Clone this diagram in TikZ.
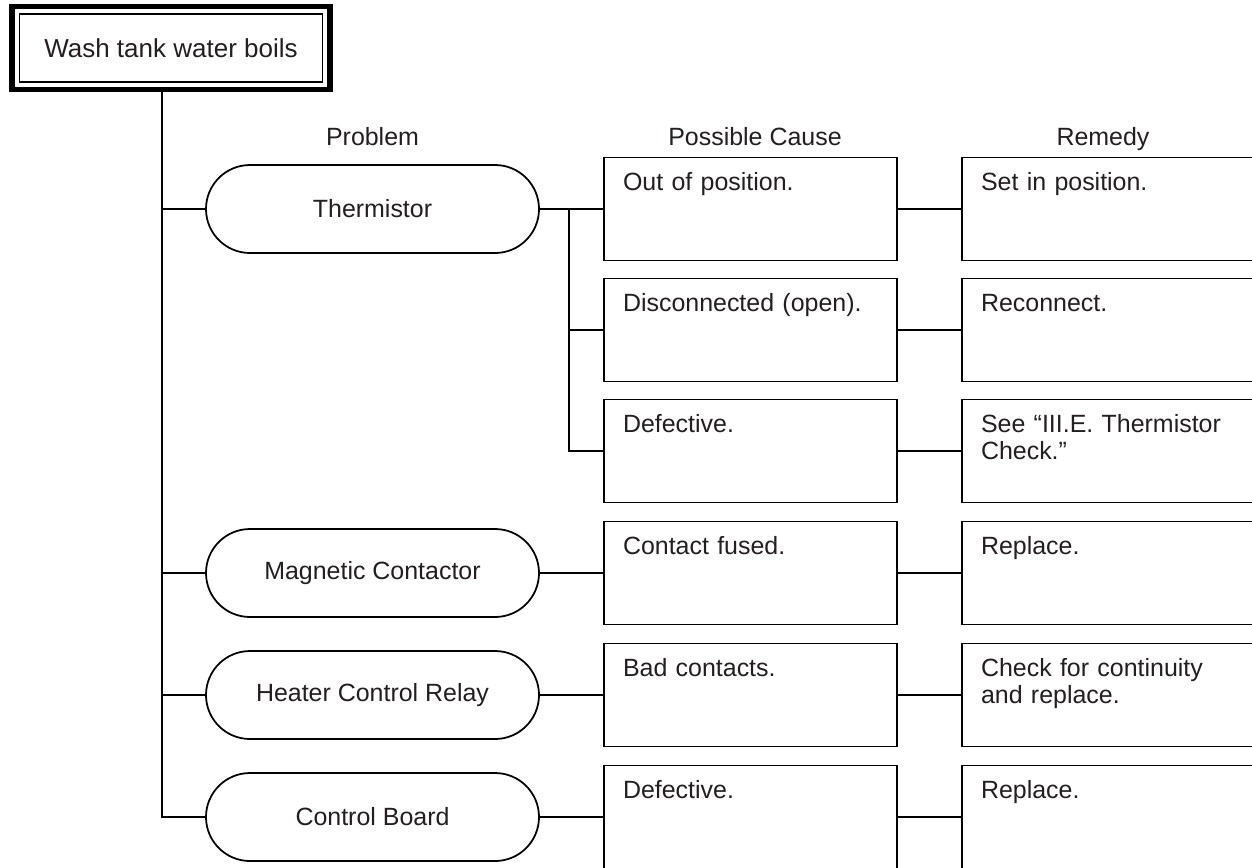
\documentclass[tikz,border=0pt]{standalone}
\usepackage{fontspec}
\setmainfont{Liberation Sans}
\usetikzlibrary{shapes.misc,fit}

\definecolor{ink}{RGB}{35,31,32}

\begin{document}
\begin{tikzpicture}[every node/.style={font=\fontsize{14.2pt}{15.4pt}\selectfont, text=ink},
  problem/.style={draw, rounded rectangle, line width=1pt, minimum width=6.66cm, minimum height=1.76cm, inner sep=0pt},
  cause/.style={draw, line width=1pt, text width=5.1cm, align=left, inner xsep=0.38cm, inner ysep=0.2cm, text height=0.46cm, text depth=1.2cm},
  head/.style={anchor=base},
  link/.style={line width=0.8pt}]
  \useasboundingbox (0,0) rectangle (25.04,-17.34);

  % Title
  \node[draw, line width=0.8pt, outer sep=0pt, minimum width=6.06cm, minimum height=1.36cm,
    font=\fontsize{14.8pt}{16pt}\selectfont] (title) at (3.42,-0.96) {Wash tank water boils};
  \node[draw, line width=3.4pt, fit=(title), inner sep=0.15cm] (frame) {};

  % Column heads
  \node[head] (hprob) at (7.45,-2.9) {Problem};
  \node[head] (hcause) at (15.1,-2.9) {Possible Cause};
  \node[head] (hremedy) at (22.06,-2.9) {Remedy};

  % Problems
  \node[problem] (therm) at (7.45,-4.18) {Thermistor};
  \node[problem] (mag) at (7.45,-11.46) {Magnetic Contactor};
  \node[problem] (relay) at (7.45,-13.90) {Heater Control Relay};
  \node[problem] (board) at (7.45,-16.34) {Control Board};

  % Possible causes
  \node[cause] (c1) at (15.01,-4.18) {Out of position.};
  \node[cause] (c2) at (15.01,-6.60) {Disconnected (open).};
  \node[cause] (c3) at (15.01,-9.02) {Defective.};
  \node[cause] (c4) at (15.01,-11.46) {Contact fused.};
  \node[cause] (c5) at (15.01,-13.90) {Bad contacts.};
  \node[cause] (c6) at (15.01,-16.34) {Defective.};

  % Remedies
  \node[cause] (r1) at (22.17,-4.18) {Set in position.};
  \node[cause] (r2) at (22.17,-6.60) {Reconnect.};
  \node[cause] (r3) at (22.17,-9.02) {See “III.E. Thermistor\\ Check.”};
  \node[cause] (r4) at (22.17,-11.46) {Replace.};
  \node[cause] (r5) at (22.17,-13.90) {Check for continuity\\ and replace.};
  \node[cause] (r6) at (22.17,-16.34) {Replace.};

  % Trunk
  \coordinate (bus) at (3.24,0);
  \draw[link] (frame.south -| bus) |- (board.west);
  \draw[link] (bus |- therm.west) -- (therm.west);
  \draw[link] (bus |- mag.west) -- (mag.west);
  \draw[link] (bus |- relay.west) -- (relay.west);

  % Thermistor branch
  \coordinate (split) at (11.38,-4.18);
  \draw[link] (therm.east) -- (c1.west);
  \draw[link] (split) |- (c3.west);
  \draw[link] (split |- c2.west) -- (c2.west);

  \draw[link] (mag.east) -- (c4.west);
  \draw[link] (relay.east) -- (c5.west);
  \draw[link] (board.east) -- (c6.west);

  % Cause to remedy
  \foreach \i in {1,...,6}
    \draw[link] (c\i.east) -- (r\i.west);
\end{tikzpicture}
\end{document}
